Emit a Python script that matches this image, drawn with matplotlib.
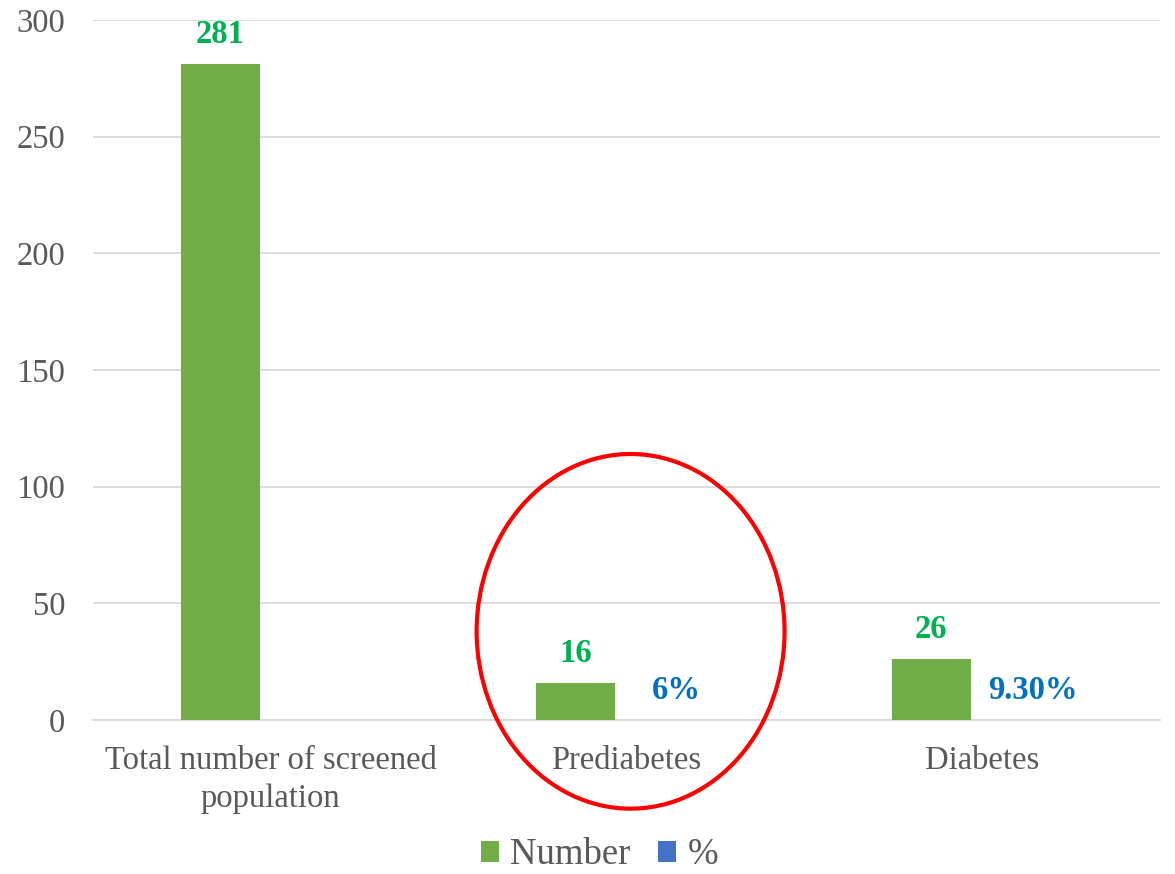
import matplotlib.pyplot as plt
from matplotlib.patches import Ellipse
import numpy as np

categories = ['Total number of screened\npopulation', 'Prediabetes', 'Diabetes']
number = [281, 16, 26]
percent = [np.nan, 0.06, 0.093]
percent_labels = ['', '6%', '9.30%']

plt.rcParams['font.family'] = ['Liberation Serif', 'DejaVu Serif']

fig = plt.figure(figsize=(11.75, 8.74), dpi=100)
ax = fig.add_axes([0.0791, 0.1762, 0.9079, 0.8009])

x = np.arange(len(categories))
w = 0.222
off = 0.142
b1 = ax.bar(x - off, number, w, color='#70AD47', label='Number', zorder=3)
b2 = ax.bar(x + off, percent, w, color='#4472C4', label='%', zorder=3)

for rect, v in zip(b1, number):
    ax.annotate(str(v), (rect.get_x() + rect.get_width() / 2, v),
                xytext=(0, 10), textcoords='offset points', ha='center', va='bottom',
                fontsize=23.5, fontweight='bold', color='#00B050')
for rect, v, lab in zip(b2, percent, percent_labels):
    if lab:
        ax.annotate(lab, (rect.get_x() + rect.get_width() / 2, v),
                    xytext=(0, 10), textcoords='offset points', ha='center', va='bottom',
                    fontsize=23.5, fontweight='bold', color='#0070C0')

ax.set_xlim(-0.5, 2.5)
ax.set_ylim(0, 300)
ax.set_yticks(np.arange(0, 301, 50))
ax.set_xticks(x)
ax.set_xticklabels(categories, linespacing=1.35)
ax.tick_params(axis='both', length=0, labelsize=23.5, colors='#595959')
ax.tick_params(axis='y', pad=20)
ax.tick_params(axis='x', pad=18)
ax.yaxis.grid(True, color='#D9D9D9', linewidth=1.3, zorder=0)
for s in ['top', 'right', 'left']:
    ax.spines[s].set_visible(False)
ax.spines['bottom'].set_color('#D9D9D9')
ax.spines['bottom'].set_linewidth(1.3)

# highlight around the prediabetes group
ax.add_patch(Ellipse((1.012, 38), 0.866, 152, fill=False, edgecolor='#FF0000',
                     linewidth=3, clip_on=False, zorder=5))

leg = fig.legend(loc='lower center', bbox_to_anchor=(0.51, -0.036), ncol=2, frameon=False,
                 fontsize=26.5, handlelength=0.5, handleheight=0.5, handletextpad=0.3,
                 columnspacing=0.75)
for t in leg.get_texts():
    t.set_color('#595959')

fig.savefig('out.png', dpi=100)
